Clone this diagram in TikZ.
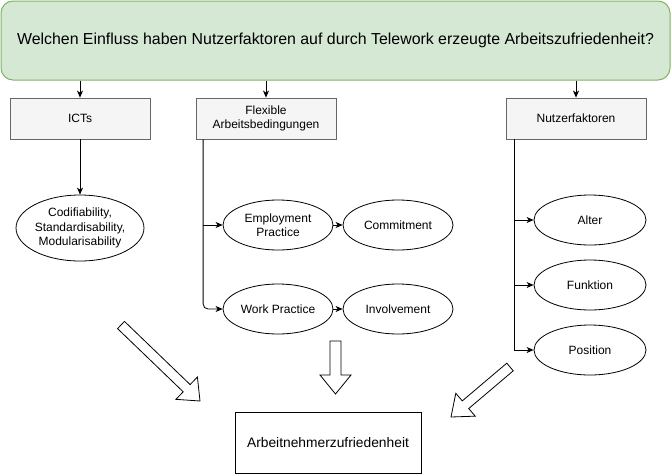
\documentclass[tikz,border=0pt]{standalone}
\usepackage{fontspec}
\setmainfont{Liberation Sans}
\usetikzlibrary{shapes.geometric,arrows.meta,calc}
\definecolor{qfill}{HTML}{D5E8D4}
\definecolor{qdraw}{HTML}{82B366}
\definecolor{bfill}{HTML}{F5F5F5}
\definecolor{bdraw}{HTML}{666666}
\newcommand\blockarrow[5]{%
  \path (#1) coordinate (ba-t) (#2) coordinate (ba-p);
  \path ($(ba-p)!#5!(ba-t)$) coordinate (ba-h);
  \draw[blockarr] ($(ba-t)!#3!90:(ba-p)$) -- ($(ba-h)!#3!-90:(ba-t)$) -- ($(ba-h)!#4!-90:(ba-t)$) -- (ba-p) -- ($(ba-h)!#4!90:(ba-t)$) -- ($(ba-h)!#3!90:(ba-t)$) -- ($(ba-t)!#3!-90:(ba-p)$) -- cycle;
}
\tikzset{
  question/.style={draw=qdraw, fill=qfill, rounded corners=12pt, line width=1pt, minimum width=669pt, minimum height=79pt, inner sep=0pt, font=\fontsize{15.9}{19}\selectfont},
  catbox/.style={draw=bdraw, fill=bfill, line width=0.8pt, minimum width=140pt, minimum height=41pt, inner sep=0pt, align=center, font=\fontsize{12}{14.5}\selectfont},
  oval/.style={draw, ellipse, fill=white, line width=0.8pt, inner sep=0pt, align=center, font=\fontsize{12}{14.5}\selectfont},
  conn/.style={draw, line width=0.8pt, -{Stealth[length=7pt,width=6pt,inset=2pt]}},
  blockarr/.style={draw, fill=white, line width=0.8pt, line join=miter},
  target/.style={draw, line width=0.8pt, minimum width=186pt, minimum height=61pt, inner sep=0pt, font=\fontsize{13.8}{16}\selectfont},
}
\begin{document}
\begin{tikzpicture}[x=1pt,y=-1pt]
\path[use as bounding box, fill=white] (0,0) rectangle (671,474);
\node[question] (q) at (335.5,40.5) {Welchen Einfluss haben Nutzerfaktoren auf durch Telework erzeugte Arbeitszufriedenheit?};
\node[catbox] (ict) at (80,118.5) {ICTs};
\node[catbox] (flex) at (266,118.5) {Flexible\\Arbeitsbedingungen};
\node[catbox] (nutz) at (576,118.5) {Nutzerfaktoren};
\node[oval, minimum width=120pt, minimum height=66pt] (codi) at (80,228) {Codifiability,\\Standardisability,\\Modularisability};
\node[oval, minimum width=110pt, minimum height=50pt] (emp) at (278,225) {Employment\\Practice};
\node[oval, minimum width=110pt, minimum height=50pt] (comm) at (398,225) {Commitment};
\node[oval, minimum width=110pt, minimum height=50pt] (work) at (278,309) {Work Practice};
\node[oval, minimum width=110pt, minimum height=50pt] (inv) at (398,309) {Involvement};
\node[oval, minimum width=112pt, minimum height=50pt] (alter) at (590,220) {Alter};
\node[oval, minimum width=112pt, minimum height=50pt] (funk) at (590,285) {Funktion};
\node[oval, minimum width=112pt, minimum height=50pt] (pos) at (590,350) {Position};
\node[target] (ziel) at (328,442.5) {Arbeitnehmerzufriedenheit};
% connectors
\draw[conn] (q.south -| ict.north) -- (ict.north);
\draw[conn] (q.south -| flex.north) -- (flex.north);
\draw[conn] (q.south -| nutz.north) -- (nutz.north);
\draw[conn] (ict.south) -- (codi.north);
\coordinate (fv) at ([xshift=7.5pt]flex.south west);
\draw[conn] (fv |- emp.west) -- (emp.west);
\draw[conn, rounded corners=5pt] (fv) |- (work.west);
\draw[conn] (emp.east) -- (comm.west);
\draw[conn] (work.east) -- (inv.west);
\coordinate (nv) at ([xshift=9pt]nutz.south west);
\draw[conn] (nv) |- (pos.west);
\draw[conn] (nv |- alter.west) -- (alter.west);
\draw[conn] (nv |- funk.west) -- (funk.west);
% block arrows
\coordinate (la-t) at (121,325);
\coordinate (la-p) at (200,401);
\coordinate (ma-t) at (335.5,341);
\coordinate (ma-p) at (335.5,394);
\coordinate (ra-t) at (510,367);
\coordinate (ra-p) at (451,417);
\blockarrow{la-t}{la-p}{5pt}{15.5pt}{18.5pt}
\blockarrow{ma-t}{ma-p}{5.5pt}{15.5pt}{19pt}
\blockarrow{ra-t}{ra-p}{5pt}{15pt}{19pt}
\end{tikzpicture}
\end{document}
